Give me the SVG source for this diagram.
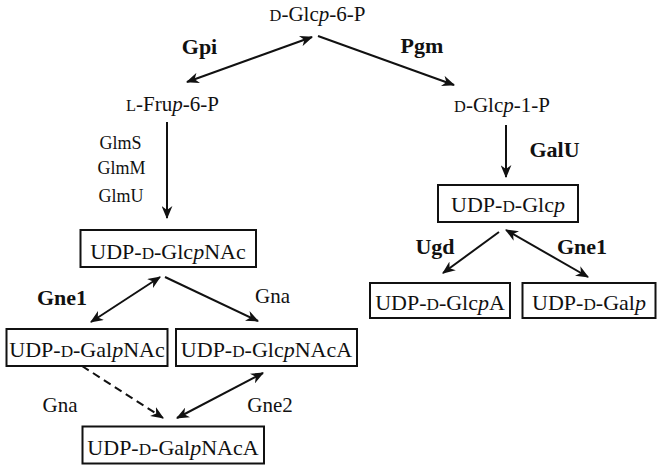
<svg xmlns="http://www.w3.org/2000/svg" width="662" height="469" viewBox="0 0 662 469">
<style>
text{font-family:"Liberation Serif","Times New Roman",serif;fill:#111;text-anchor:middle}
.lab{font-size:21px}
.box{font-size:22px}
.enz{font-size:22px;font-weight:bold}
.enr{font-size:21px}
.glm{font-size:18px}
.sc{font-size:0.78em}
.it{font-style:italic}
rect{fill:#fff;stroke:#111;stroke-width:2}
.c{fill:none;stroke:#111;stroke-width:2}
.d{stroke-dasharray:8 5}
</style>
<defs>
<marker id="ah" viewBox="0 0 12 10" refX="11" refY="5" markerWidth="13" markerHeight="11" markerUnits="userSpaceOnUse" orient="auto-start-reverse">
<path d="M0,0 L12,5 L0,10 L3.5,5 z" fill="#111"/>
</marker>
</defs>
<g id="connectors">
<line class="c" x1="187" y1="82" x2="312" y2="37" marker-start="url(#ah)" marker-end="url(#ah)"/>
<line class="c" x1="318" y1="36" x2="454" y2="85" marker-end="url(#ah)"/>
<line class="c" x1="167" y1="122" x2="167" y2="218" marker-end="url(#ah)"/>
<line class="c" x1="506" y1="125" x2="506" y2="177" marker-end="url(#ah)"/>
<line class="c" x1="499" y1="232" x2="443" y2="273" marker-end="url(#ah)"/>
<line class="c" x1="506" y1="230" x2="588" y2="277" marker-start="url(#ah)" marker-end="url(#ah)"/>
<line class="c" x1="91" y1="322" x2="160" y2="277" marker-start="url(#ah)" marker-end="url(#ah)"/>
<line class="c" x1="165" y1="277" x2="258" y2="321" marker-end="url(#ah)"/>
<line class="c d" x1="82" y1="366" x2="163" y2="418" marker-end="url(#ah)"/>
<line class="c" x1="177" y1="418" x2="263" y2="373" marker-start="url(#ah)" marker-end="url(#ah)"/>
</g>
<g id="glc6p"><text class="lab" x="317.5" y="21"><tspan class="sc">D</tspan>-Glc<tspan class="it">p</tspan>-6-P</text></g>
<g id="fru6p"><text class="lab" x="172.5" y="111"><tspan class="sc">L</tspan>-Fru<tspan class="it">p</tspan>-6-P</text></g>
<g id="glc1p"><text class="lab" x="502" y="112"><tspan class="sc">D</tspan>-Glc<tspan class="it">p</tspan>-1-P</text></g>
<g id="udpglc"><rect x="438" y="185" width="140" height="37"/><text class="box" x="508" y="212">UDP-<tspan class="sc">D</tspan>-Glc<tspan class="it">p</tspan></text></g>
<g id="udpglcnac"><rect x="80.5" y="230" width="175.5" height="37"/><text class="box" x="168" y="259">UDP-<tspan class="sc">D</tspan>-Glc<tspan class="it">p</tspan>NAc</text></g>
<g id="udpglca"><rect x="370" y="283" width="140" height="35"/><text class="box" x="440" y="310">UDP-<tspan class="sc">D</tspan>-Glc<tspan class="it">p</tspan>A</text></g>
<g id="udpgal"><rect x="522.5" y="283" width="133" height="35"/><text class="box" x="589" y="310">UDP-<tspan class="sc">D</tspan>-Gal<tspan class="it">p</tspan></text></g>
<g id="udpgalnac"><rect x="6.5" y="329" width="161" height="37"/><text class="box" x="87" y="357">UDP-<tspan class="sc">D</tspan>-Gal<tspan class="it">p</tspan>NAc</text></g>
<g id="udpglcnaca"><rect x="176" y="329" width="181" height="37"/><text class="box" x="266.5" y="357">UDP-<tspan class="sc">D</tspan>-Glc<tspan class="it">p</tspan>NAcA</text></g>
<g id="udpgalnaca"><rect x="82.5" y="426.5" width="181.5" height="37"/><text class="box" x="173" y="455">UDP-<tspan class="sc">D</tspan>-Gal<tspan class="it">p</tspan>NAcA</text></g>
<g id="labels">
<text class="enz" x="199.5" y="54">Gpi</text>
<text class="enz" x="422" y="53">Pgm</text>
<text class="glm" x="120.5" y="149">GlmS</text>
<text class="glm" x="121.5" y="174">GlmM</text>
<text class="glm" x="121" y="202">GlmU</text>
<text class="enz" x="554.5" y="157">GalU</text>
<text class="enz" x="435" y="254">Ugd</text>
<text class="enz" x="582" y="254">Gne1</text>
<text class="enz" x="62" y="305">Gne1</text>
<text class="enr" x="272.5" y="303">Gna</text>
<text class="enr" x="60" y="412">Gna</text>
<text class="enr" x="270" y="412">Gne2</text>
</g>
</svg>
